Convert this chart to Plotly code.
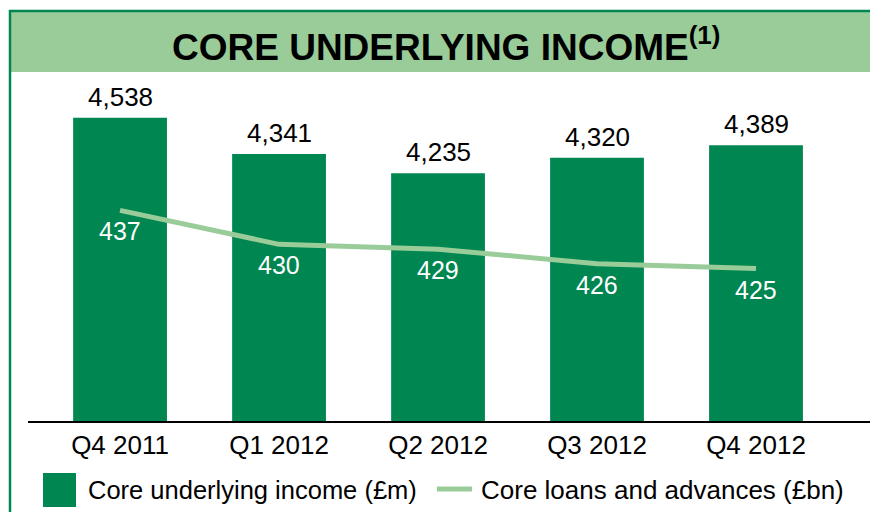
import plotly.graph_objects as go

categories = ["Q4 2011", "Q1 2012", "Q2 2012", "Q3 2012", "Q4 2012"]
income_m = [4538, 4341, 4235, 4320, 4389]
loans_bn = [437, 430, 429, 426, 425]
title_text = "CORE UNDERLYING INCOME"
legend_income = "Core underlying income (£m)"
legend_loans = "Core loans and advances (£bn)"

BAR = "#008650"
LIGHT = "#99CC99"
FONT = "Liberation Sans, Arial, sans-serif"

W, H = 870, 512
ML, MR, MT, MB = 28, 0, 90, 91
PW = W - ML - MR
PH = H - MT - MB


def px(x):
    return (x - ML) / PW


def py(y):
    return (H - MB - y) / PH


fig = go.Figure()
fig.add_trace(go.Bar(
    x=categories, y=income_m, marker_color=BAR, width=0.59,
    marker_line_width=0, name=legend_income, showlegend=False,
    hoverinfo="skip"))
fig.add_trace(go.Scatter(
    x=categories, y=loans_bn, yaxis="y2", mode="lines",
    line=dict(color=LIGHT, width=5), name=legend_loans, showlegend=False,
    hoverinfo="skip"))

annotations = []
for c, v in zip(categories, income_m):
    annotations.append(dict(x=c, y=v, xref="x", yref="y", text=f"{v:,}",
                            showarrow=False, yanchor="middle", yshift=21,
                            font=dict(family=FONT, size=26, color="black")))
for c, v in zip(categories, loans_bn):
    annotations.append(dict(x=c, y=v, xref="x", yref="y2", text=str(v),
                            showarrow=False, yanchor="middle", yshift=-21,
                            font=dict(family=FONT, size=25, color="white")))

# title
annotations.append(dict(
    x=px(446), y=py(44), xref="paper", yref="paper",
    text="<b>" + title_text + "<sup>(1)</sup></b>",
    showarrow=False, xanchor="center", yanchor="middle",
    font=dict(family=FONT, size=37, color="black")))
# legend texts
annotations.append(dict(
    x=px(86), y=py(490), xref="paper", yref="paper", text=legend_income,
    showarrow=False, xanchor="left", yanchor="middle",
    font=dict(family=FONT, size=25.5, color="black")))
annotations.append(dict(
    x=px(479), y=py(490), xref="paper", yref="paper", text=legend_loans,
    showarrow=False, xanchor="left", yanchor="middle",
    font=dict(family=FONT, size=26, color="black")))

shapes = [
    # title band
    dict(type="rect", xref="paper", yref="paper", x0=px(10), x1=px(870),
         y0=py(72), y1=py(11), fillcolor=LIGHT, line_width=0, layer="below"),
    # frame: top and left edges
    dict(type="line", xref="paper", yref="paper", x0=px(9), x1=px(870),
         y0=py(11), y1=py(11), line=dict(color=BAR, width=2.5)),
    dict(type="line", xref="paper", yref="paper", x0=px(10), x1=px(10),
         y0=py(10), y1=py(512), line=dict(color=BAR, width=2.5)),
    # legend swatches
    dict(type="rect", xref="paper", yref="paper", x0=px(43), x1=px(76),
         y0=py(507), y1=py(473), fillcolor=BAR, line_width=0),
    dict(type="line", xref="paper", yref="paper", x0=px(437), x1=px(472),
         y0=py(489), y1=py(489), line=dict(color=LIGHT, width=5)),
]

fig.update_layout(
    width=W, height=H,
    margin=dict(l=ML, r=MR, t=MT, b=MB),
    paper_bgcolor="white", plot_bgcolor="white",
    showlegend=False,
    font=dict(family=FONT, color="black"),
    xaxis=dict(type="category", range=[-0.579, 4.717], showline=True,
               linecolor="black", linewidth=2, ticks="", showgrid=False,
               tickfont=dict(family=FONT, size=26, color="black"),
               fixedrange=True),
    yaxis=dict(range=[2883, 4690], visible=False, showgrid=False,
               fixedrange=True),
    yaxis2=dict(range=[393.6, 461.8], visible=False, overlaying="y",
                side="right", showgrid=False, fixedrange=True),
    annotations=annotations,
    shapes=shapes,
)

fig.write_html("out.html", config={"displayModeBar": False},
               post_script="document.body.style.margin='0';document.body.style.overflow='hidden';")
